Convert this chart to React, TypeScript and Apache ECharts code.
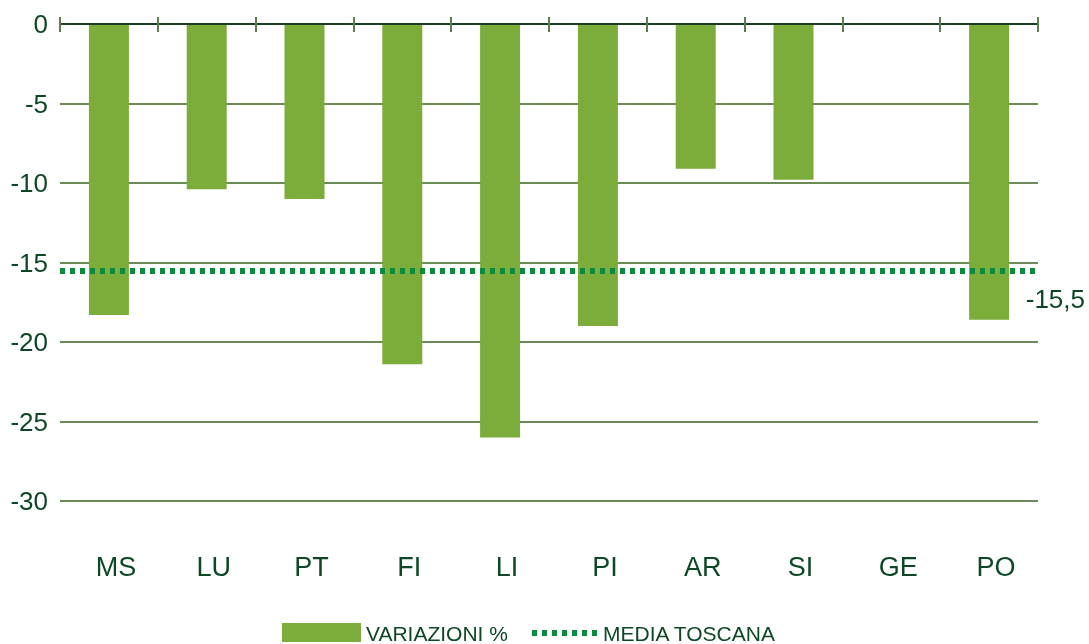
import React, { useEffect, useRef } from "react";
import * as echarts from "echarts";

const categories = ["MS", "LU", "PT", "FI", "LI", "PI", "AR", "SI", "GE", "PO"];
const variazioni: (number | null)[] = [-18.3, -10.4, -11.0, -21.4, -26.0, -19.0, -9.1, -9.8, null, -18.6];
const mediaToscana = -15.5;
const mediaLabel = "-15,5";
const legendNames = ["VARIAZIONI %", "MEDIA TOSCANA"];

const BAR = "#7cac3a";
const DOT = "#0a8a3c";
const TXT = "#0d4726";
const GRID = "#6b8a55";
const FONT = "'Liberation Sans', Arial, sans-serif";

export default function App() {
  const ref = useRef<HTMLDivElement>(null);
  useEffect(() => {
    if (!ref.current) return;
    const chart = echarts.init(ref.current, null, { renderer: "svg" });
    const legendGraphics = [
      { type: "rect", shape: { x: 282, y: 623, width: 79, height: 19 }, style: { fill: BAR } },
      { type: "text", style: { x: 366, y: 633, text: legendNames[0], fill: TXT, fontSize: 21, fontFamily: FONT, verticalAlign: "middle" } },
      { type: "line", shape: { x1: 532, y1: 633, x2: 598, y2: 633 }, style: { stroke: DOT, lineWidth: 6, lineDash: [5, 5] } },
      { type: "text", style: { x: 603, y: 633, text: legendNames[1], fill: TXT, fontSize: 21, fontFamily: FONT, verticalAlign: "middle" } },
    ];
    chart.setOption({
      animation: false,
      grid: { left: 60, right: 51, top: 24, bottom: 143 },
      xAxis: [
        {
          type: "category",
          data: categories,
          position: "top",
          axisLine: { show: true, lineStyle: { color: "#1a3d24", width: 2 } },
          axisTick: { show: true, length: 7, lineStyle: { color: "#5e7d4a", width: 2 } },
          axisLabel: { show: false },
          z: 10,
        },
        {
          type: "category",
          data: categories,
          position: "top",
          axisLine: { show: false },
          axisTick: { show: true, inside: true, length: 8, lineStyle: { color: "#5e7d4a", width: 2 } },
          axisLabel: { show: false },
          z: 10,
        },
        {
          type: "category",
          data: categories,
          position: "bottom",
          axisLine: { show: false },
          axisTick: { show: false },
          axisLabel: { show: true, color: TXT, fontSize: 27, fontFamily: FONT, margin: 52, padding: [0, 0, 0, 14] },
        },
      ],
      yAxis: {
        type: "value",
        min: -30,
        max: 0,
        interval: 5,
        axisLine: { show: false },
        axisTick: { show: false },
        axisLabel: { color: TXT, fontSize: 26, fontFamily: FONT, margin: 12 },
        splitLine: { lineStyle: { color: GRID, width: 2 } },
      },
      series: [
        {
          name: legendNames[0],
          type: "bar",
          xAxisIndex: 0,
          data: variazioni,
          barWidth: 40,
          itemStyle: { color: BAR },
          markLine: {
            silent: true,
            symbol: "none",
            lineStyle: { color: DOT, width: 6, type: [5, 5] },
            label: { show: false },
            data: [{ yAxis: mediaToscana }],
          },
        },
      ],
      graphic: legendGraphics,
    });
    const yPix = chart.convertToPixel({ yAxisIndex: 0 }, mediaToscana) as number;
    chart.setOption({
      graphic: [
        ...legendGraphics,
        {
          type: "text",
          style: { x: 1085, y: yPix + 29, text: mediaLabel, fill: TXT, fontSize: 26, fontFamily: FONT, align: "right", verticalAlign: "middle" },
        },
      ],
    });
    return () => chart.dispose();
  }, []);
  return <div ref={ref} style={{ position: "fixed", left: 0, top: 0, width: 1089, height: 644 }} />;
}
